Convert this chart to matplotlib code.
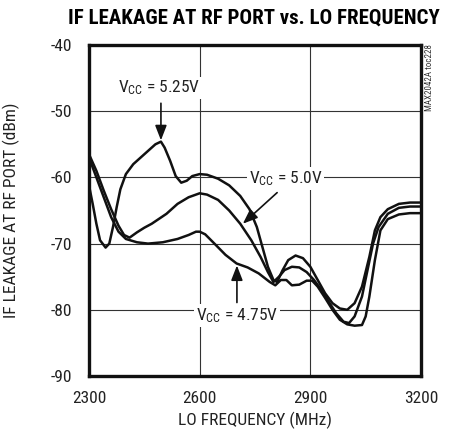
import matplotlib
matplotlib.use("Agg")
import matplotlib.pyplot as plt
import numpy as np

FONT = ["Roboto Condensed", "DejaVu Sans"]
plt.rcParams["font.family"] = FONT
plt.rcParams["mathtext.fontset"] = "custom"
plt.rcParams["mathtext.rm"] = FONT[0]
plt.rcParams["mathtext.it"] = FONT[0]
plt.rcParams["axes.unicode_minus"] = False

# LO frequency (MHz) / IF leakage (dBm) for each supply voltage
freq_525 = [2300, 2310, 2320, 2330, 2345, 2355, 2365, 2375, 2385, 2400, 2420, 2440,
            2460, 2480, 2495, 2505, 2520, 2535, 2550, 2565, 2580, 2600, 2620, 2650,
            2680, 2710, 2735, 2755, 2770, 2785, 2800, 2810, 2825, 2840, 2860, 2880,
            2900, 2920, 2940, 2960, 2980, 3000, 3020, 3040, 3060, 3075, 3090, 3110,
            3140, 3170, 3200]
leak_525 = [-61.2, -64.0, -67.0, -69.5, -70.6, -70.0, -67.5, -64.5, -61.8, -59.5, -58.0, -57.0,
            -56.0, -55.0, -54.6, -55.5, -57.5, -59.8, -60.8, -60.5, -59.8, -59.5, -59.6, -60.2,
            -61.2, -62.8, -64.8, -67.5, -70.5, -73.5, -75.5, -75.8, -74.0, -72.5, -71.8, -72.2,
            -73.5, -75.5, -77.5, -79.0, -79.8, -80.0, -79.0, -76.5, -72.0, -68.0, -66.0, -64.8,
            -64.0, -63.8, -63.8]

freq_50 = [2300, 2320, 2340, 2360, 2380, 2395, 2410, 2430, 2450, 2470, 2510, 2540,
           2570, 2600, 2620, 2650, 2680, 2710, 2740, 2765, 2785, 2800, 2815, 2830,
           2850, 2870, 2890, 2910, 2930, 2950, 2970, 2990, 3005, 3020, 3040, 3055,
           3070, 3085, 3110, 3140, 3170, 3200]
leak_50 = [-56.5, -59.0, -62.0, -64.8, -67.3, -68.7, -69.1, -68.3, -67.6, -67.0, -65.5, -64.0,
           -63.0, -62.4, -62.6, -63.4, -65.0, -67.0, -69.5, -72.0, -74.3, -75.8, -75.0, -74.0,
           -73.5, -73.6, -74.3, -75.5, -77.0, -78.8, -80.5, -81.8, -82.0, -81.0, -78.0, -74.0,
           -70.0, -67.5, -65.5, -64.6, -64.4, -64.4]

freq_475 = [2300, 2320, 2340, 2360, 2380, 2400, 2430, 2460, 2500, 2540, 2570, 2590,
            2600, 2615, 2640, 2670, 2700, 2730, 2760, 2790, 2805, 2820, 2835, 2850,
            2870, 2890, 2905, 2920, 2940, 2960, 2980, 3000, 3020, 3040, 3050, 3060,
            3075, 3090, 3110, 3140, 3170, 3200]
leak_475 = [-57.0, -60.0, -63.0, -66.0, -68.2, -69.3, -69.8, -70.0, -69.8, -69.3, -68.7, -68.2,
            -68.2, -68.6, -70.0, -71.7, -73.0, -73.6, -74.5, -75.8, -76.3, -75.5, -75.5, -76.3,
            -76.2, -75.6, -75.6, -76.5, -78.2, -80.0, -81.5, -82.2, -82.4, -82.3, -81.0, -78.0,
            -72.5, -68.0, -66.3, -65.6, -65.4, -65.4]

x_ticks = [2300, 2600, 2900, 3200]
y_ticks = [-90, -80, -70, -60, -50, -40]

fig = plt.figure(figsize=(4.54, 4.37), dpi=100)
ax = fig.add_axes([89 / 454, 1 - 376 / 437, 332 / 454, 331 / 437])

for f, v in [(freq_525, leak_525), (freq_50, leak_50), (freq_475, leak_475)]:
    ax.plot(f, v, color="#111111", lw=1.8, solid_joinstyle="round",
            solid_capstyle="round", zorder=3)

ax.set_xlim(2300, 3200)
ax.set_ylim(-90, -40)
ax.set_xticks(x_ticks)
ax.set_yticks(y_ticks)
ax.tick_params(length=0, labelsize=12.5, colors="#222222")
ax.tick_params(axis="y", pad=12)
ax.tick_params(axis="x", pad=11)
ax.grid(True, color="#333333", lw=0.8, zorder=1)
for s in ax.spines.values():
    s.set_linewidth(2.4)
    s.set_color("#111111")
    s.set_zorder(5)

ax.set_xlabel("LO FREQUENCY (MHz)", fontsize=12.5, color="#222222")
ax.xaxis.set_label_coords(166 / 332, -(412 - 376) / 331)
ax.set_ylabel("IF LEAKAGE AT RF PORT (dBm)", fontsize=12.5, color="#222222")
ax.yaxis.set_label_coords(-(89 - 20) / 332, (376 - 210) / 331)

fig.text(254 / 454, 1 - 18 / 437, "IF LEAKAGE AT RF PORT vs. LO FREQUENCY",
         ha="center", va="center", fontsize=15, fontweight="black")
fig.text(430 / 454, 1 - 44 / 437, "MAX2042A toc228", rotation=90,
         ha="center", va="top", fontsize=6.5, color="#333333")

label_kw = dict(ha="center", va="center", fontsize=12.5, zorder=4, color="#222222",
                bbox=dict(facecolor="white", edgecolor="none", pad=1.5))
arrow_kw = dict(arrowstyle="-|>,head_length=0.9,head_width=0.35",
                color="#111111", lw=1.2, shrinkA=0, shrinkB=0)

# V_CC = 5.25V, arrow onto the peak of its curve
i_pk = int(np.argmax(leak_525))
ax.text(2490, -46.5, r"V$_{\rm CC}$ = 5.25V", **label_kw)
ax.annotate("", xy=(freq_525[i_pk], leak_525[i_pk] + 0.2),
            xytext=(freq_525[i_pk], -48.8), arrowprops=arrow_kw, zorder=4)

# V_CC = 5.0V
ax.text(2833, -60.2, r"V$_{\rm CC}$ = 5.0V", **label_kw)
ax.annotate("", xy=(2717, -67.0), xytext=(2810, -62.3), arrowprops=arrow_kw, zorder=4)

# V_CC = 4.75V
ax.text(2701, -80.9, r"V$_{\rm CC}$ = 4.75V", **label_kw)
ax.annotate("", xy=(2701, -73.3), xytext=(2701, -78.9), arrowprops=arrow_kw, zorder=4)

fig.savefig("out.png", dpi=100)
